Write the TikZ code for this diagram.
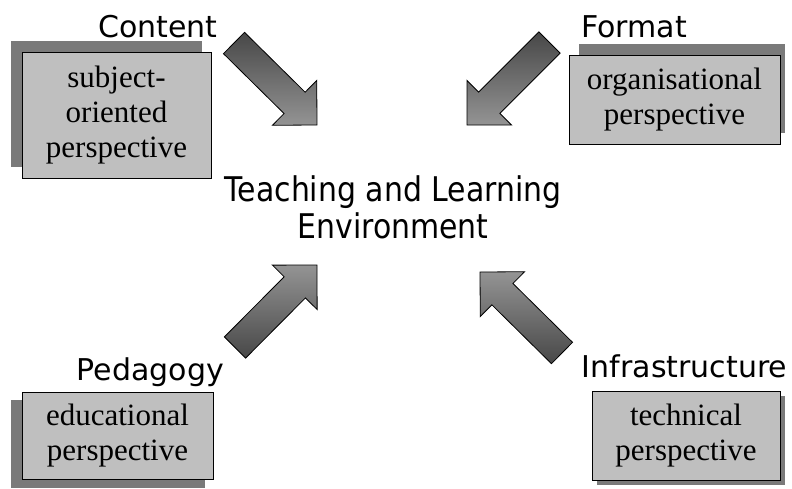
\documentclass[tikz,border=0pt]{standalone}
\usepackage{fontspec}
\setmainfont{Liberation Serif}
\newfontfamily\labelfont{DejaVu Sans}
\newfontfamily\titlefont{DejaVu Sans}[FakeStretch=0.88]
\usetikzlibrary{calc}

% block arrow from tail #1 to tip #2
\newcommand{\blockarrow}[3]{%
\coordinate (hb) at ($(#2)!31.5pt!(#1)$);
\shade[draw=black, line width=0.8pt, #3]
  ($(#1)!15pt!90:(#2)$) -- ($(hb)!15pt!-90:(#1)$) -- ($(hb)!31.5pt!-90:(#1)$) -- (#2)
  -- ($(hb)!31.5pt!90:(#1)$) -- ($(hb)!15pt!90:(#1)$) -- ($(#1)!15pt!-90:(#2)$) -- cycle;}

\begin{document}
\begin{tikzpicture}[x=1pt,y=-1pt,
  box/.style={draw=black, fill=black!25, line width=0.8pt, inner sep=0pt, align=center, font=\fontsize{31}{35}\selectfont},
  shadow/.style={fill=black!52},
  lbl/.style={inner sep=0pt, font=\labelfont\fontsize{30}{36}\selectfont},
  downgrad/.style={top color=black!72, bottom color=black!42},
  upgrad/.style={top color=black!42, bottom color=black!72}]
\fill[white] (0,0) rectangle (792,488);

% shadows
\fill[shadow] (11,41) rectangle (202,167);
\fill[shadow] (579,44) rectangle (785,133);
\fill[shadow] (11,400) rectangle (205,488);
\fill[shadow] (597,396) rectangle (785,485);

% perspectives
\node[box, minimum width=189pt, minimum height=126pt] (subj) at (116.5,115) {subject-\\oriented\\perspective};
\node[box, minimum width=211pt, minimum height=89pt] (org) at (674.5,99.5) {organisational\\perspective};
\node[box, minimum width=191pt, minimum height=87pt] (edu) at (117.5,435.5) {educational\\perspective};
\node[box, minimum width=188pt, minimum height=89pt] (tech) at (686,435.5) {technical\\perspective};

% labels
\node[lbl, anchor=base] (content) at (158,37) {Content};
\node[lbl, anchor=base west] (format) at (581,37) {Format};
\node[lbl, anchor=base] (pedagogy) at (150.5,380) {Pedagogy};
\node[lbl, anchor=base] (infra) at (684.5,377) {Infrastructure};

\node[inner sep=0pt, align=center, anchor=north, font=\titlefont\fontsize{34}{37}\selectfont] (env) at (393,175) {Teaching and Learning\\Environment};

% arrows
\coordinate (content-t) at (234,43);
\coordinate (content-h) at (317,125);
\coordinate (format-t) at (549.5,42.5);
\coordinate (format-h) at (467,125);
\coordinate (pedagogy-t) at (235,347.5);
\coordinate (pedagogy-h) at (317,265);
\coordinate (infra-t) at (562,353);
\coordinate (infra-h) at (480,272);
\blockarrow{content-t}{content-h}{downgrad}
\blockarrow{format-t}{format-h}{downgrad}
\blockarrow{pedagogy-t}{pedagogy-h}{upgrad}
\blockarrow{infra-t}{infra-h}{upgrad}
\end{tikzpicture}
\end{document}
